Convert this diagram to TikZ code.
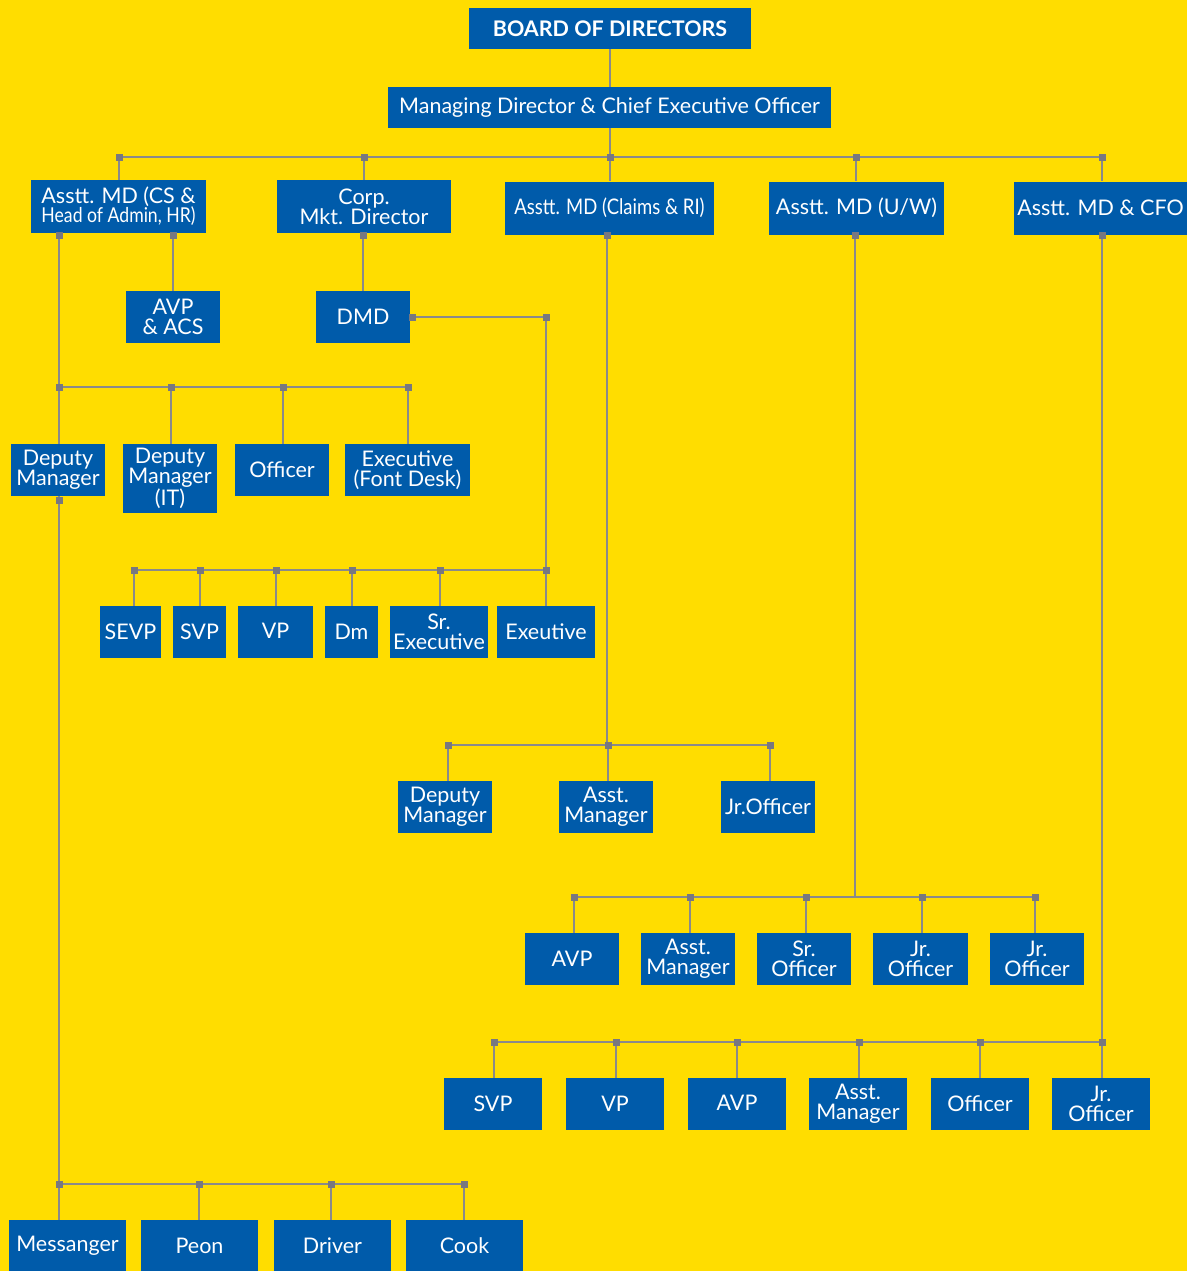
\documentclass[tikz,border=0pt]{standalone}
\usepackage{fontspec}
\usepackage{graphicx}
\setmainfont{Lato}
\definecolor{bgyellow}{RGB}{255,221,0}
\definecolor{boxblue}{RGB}{0,91,170}
\definecolor{lgray}{RGB}{138,138,138}
\definecolor{jgray}{RGB}{120,120,128}
\newcommand{\jn}[2]{\fill[jgray] (#1-3.5,#2-3.5) rectangle (#1+3.5,#2+3.5);}
\newcommand{\cond}[1]{\scalebox{0.86}[1]{#1}}
\tikzset{
  box/.style={fill=boxblue, text=white, inner sep=0pt, align=center,
    font=\fontsize{21.5}{20}\selectfont},
  conn/.style={draw=lgray, line width=1.6pt}
}
\begin{document}
\begin{tikzpicture}[x=1pt,y=-1pt]
\useasboundingbox (0,0) rectangle (1187,1271);
\fill[bgyellow] (0,0) rectangle (1187,1271);

% nodes
\node[box, minimum width=282, minimum height=41, font=\fontsize{21.5}{20}\selectfont\bfseries] (bod) at (610,28.5) {\raisebox{-1pt}{BOARD OF DIRECTORS}};
\node[box, minimum width=443, minimum height=41] (md) at (609.5,107.5) {\raisebox{-3pt}{Managing Director \& Chief Executive Officer}};

\node[box, minimum width=175, minimum height=53] (a1) at (118.5,206.5) {Asstt. MD (CS \&\\[-1pt]{\fontsize{20.5}{20}\selectfont\cond{Head of Admin, HR)}}};
\node[box, minimum width=174, minimum height=53] (a2) at (364,206.5) {Corp.\\Mkt. Director};
\node[box, minimum width=209, minimum height=53] (a3) at (609.5,208) {\raisebox{-2pt}{\cond{Asstt. MD (Claims \& RI)}}};
\node[box, minimum width=175, minimum height=53] (a4) at (856.5,208) {\raisebox{-2pt}{Asstt. MD (U/W)}};
\node[box, minimum width=173, minimum height=53] (a5) at (1100.5,208) {\raisebox{-2pt}{Asstt. MD \& CFO}};

\node[box, minimum width=94, minimum height=52] (avp) at (173,317) {AVP\\\& ACS};
\node[box, minimum width=94, minimum height=52] (dmd) at (363,317) {DMD};

\node[box, minimum width=94, minimum height=52] (dm1) at (58,470) {Deputy\\Manager};
\node[box, minimum width=94, minimum height=69] (dm2) at (170,478.5) {Deputy\\Manager\\(IT)};
\node[box, minimum width=94, minimum height=52] (off) at (282,470) {\raisebox{-2pt}{Officer}};
\node[box, minimum width=125, minimum height=52] (exf) at (407.5,470) {Executive\\(Font Desk)};

\node[box, minimum width=61, minimum height=52] (sevp) at (130.5,632) {SEVP};
\node[box, minimum width=53, minimum height=52] (svp) at (199.5,632) {SVP};
\node[box, minimum width=75, minimum height=52] (vp) at (275.5,632) {\raisebox{3pt}{VP}};
\node[box, minimum width=53, minimum height=52] (dmm) at (351.5,632) {Dm};
\node[box, minimum width=98, minimum height=52] (srex) at (439,632) {Sr.\\Executive};
\node[box, minimum width=98, minimum height=52] (exe) at (546,632) {Exeutive};

\node[box, minimum width=94, minimum height=52] (c1) at (445,807) {Deputy\\Manager};
\node[box, minimum width=94, minimum height=52] (c2) at (606,807) {Asst.\\Manager};
\node[box, minimum width=94, minimum height=52] (c3) at (768,807) {Jr.Officer};

\node[box, minimum width=94, minimum height=52] (u1) at (572,959) {\raisebox{-2pt}{AVP}};
\node[box, minimum width=94, minimum height=52] (u2) at (688,959) {Asst.\\Manager};
\node[box, minimum width=94, minimum height=52] (u3) at (804,959) {Sr.\\Officer};
\node[box, minimum width=95, minimum height=52] (u4) at (920.5,959) {Jr.\\Officer};
\node[box, minimum width=94, minimum height=52] (u5) at (1037,959) {Jr.\\Officer};

\node[box, minimum width=98, minimum height=52] (f1) at (493,1104) {\raisebox{-2pt}{SVP}};
\node[box, minimum width=98, minimum height=52] (f2) at (615,1104) {\raisebox{-2pt}{VP}};
\node[box, minimum width=98, minimum height=52] (f3) at (737,1104) {\raisebox{3pt}{AVP}};
\node[box, minimum width=98, minimum height=52] (f4) at (858,1104) {Asst.\\Manager};
\node[box, minimum width=98, minimum height=52] (f5) at (980,1104) {\raisebox{-2pt}{Officer}};
\node[box, minimum width=98, minimum height=52] (f6) at (1101,1104) {Jr.\\Officer};

\node[box, minimum width=117, minimum height=52] (b1) at (67.5,1246) {\raisebox{-2pt}{Messanger}};
\node[box, minimum width=117, minimum height=52] (b2) at (199.5,1246) {\raisebox{-2pt}{Peon}};
\node[box, minimum width=117, minimum height=52] (b3) at (332.5,1246) {\raisebox{-2pt}{Driver}};
\node[box, minimum width=117, minimum height=52] (b4) at (464.5,1246) {\raisebox{-2pt}{Cook}};

% bus coordinates
\coordinate (t0) at (610,157);
\coordinate (tl) at (119,157);
\coordinate (tr) at (1102,157);
\coordinate (h1) at (59,387);
\coordinate (h1r) at (408,387);
\coordinate (d1) at (546,317);
\coordinate (d2) at (546,570);
\coordinate (d2l) at (134,570);
\coordinate (c0) at (607,745);
\coordinate (c0l) at (448,745);
\coordinate (c0r) at (770,745);
\coordinate (u0) at (855,897);
\coordinate (u0l) at (574,897);
\coordinate (u0r) at (1035,897);
\coordinate (f0) at (1102,1042);
\coordinate (f0l) at (494,1042);
\coordinate (g0) at (59,1184);
\coordinate (g0r) at (464,1184);

% connectors
\begin{scope}[conn]
\draw (bod.south -| t0) -- (md.north -| t0);
\draw (md.south -| t0) -- (t0);
\draw (tl) -- (tr);
\draw (tl) -- (tl |- a1.north);
\draw (364,157) -- (a2.north);
\draw (t0) -- (t0 |- a3.north);
\draw (856,157) -- (a4.north -| 856,0);
\draw (tr) -- (tr |- a5.north);
% Admin branch
\draw (a1.south -| 59,0) -- (59,0 |- dm1.north);
\draw (h1) -- (h1r);
\draw (171,387) -- (dm2.north -| 171,0);
\draw (283,387) -- (off.north -| 283,0);
\draw (h1r) -- (exf.north -| h1r);
\draw (a1.south -| 173,0) -- (avp.north);
\draw (dm1.south -| 59,0) -- (g0);
\draw (g0) -- (g0r);
\draw (g0) -- (g0 |- b1.north);
\draw (199,1184) -- (b2.north -| 199,0);
\draw (331,1184) -- (b3.north -| 331,0);
\draw (g0r) -- (b4.north -| g0r);
% Marketing branch
\draw (a2.south -| 363,0) -- (dmd.north);
\draw (dmd.east) -- (d1) -- (d2) -- (d2l);
\draw (d2l) -- (sevp.north -| d2l);
\draw (200,570) -- (svp.north -| 200,0);
\draw (276,570) -- (vp.north -| 276,0);
\draw (352,570) -- (dmm.north -| 352,0);
\draw (440,570) -- (srex.north -| 440,0);
\draw (d2) -- (exe.north -| d2);
% Claims branch
\draw (a3.south -| c0) -- (c0);
\draw (c0l) -- (c0r);
\draw (c0l) -- (c1.north -| c0l);
\draw (608,745) -- (c2.north -| 608,0);
\draw (c0r) -- (c3.north -| c0r);
% U/W branch
\draw (a4.south -| u0) -- (u0);
\draw (u0l) -- (u0r);
\draw (u0l) -- (u1.north -| u0l);
\draw (690,897) -- (u2.north -| 690,0);
\draw (806,897) -- (u3.north -| 806,0);
\draw (922,897) -- (u4.north -| 922,0);
\draw (u0r) -- (u5.north -| u0r);
% CFO branch
\draw (a5.south -| f0) -- (f0);
\draw (f0l) -- (f0);
\draw (f0l) -- (f1.north -| f0l);
\draw (616,1042) -- (f2.north -| 616,0);
\draw (737,1042) -- (f3.north -| 737,0);
\draw (859,1042) -- (f4.north -| 859,0);
\draw (980,1042) -- (f5.north -| 980,0);
\draw (f0) -- (f6.north -| f0);
\end{scope}

% junction squares
\jn{119}{157}\jn{364}{157}\jn{610}{157}\jn{856}{157}\jn{1102}{157}
\jn{59}{235}\jn{173}{235}\jn{363}{235}\jn{607}{235}\jn{855}{235}\jn{1102}{235}
\jn{412}{317}\jn{546}{317}
\jn{59}{387}\jn{171}{387}\jn{283}{387}\jn{408}{387}
\jn{59}{500}
\jn{134}{570}\jn{200}{570}\jn{276}{570}\jn{352}{570}\jn{440}{570}\jn{546}{570}
\jn{448}{745}\jn{608}{745}\jn{770}{745}
\jn{574}{897}\jn{690}{897}\jn{806}{897}\jn{922}{897}\jn{1035}{897}
\jn{494}{1042}\jn{616}{1042}\jn{737}{1042}\jn{859}{1042}\jn{980}{1042}\jn{1102}{1042}
\jn{59}{1184}\jn{199}{1184}\jn{331}{1184}\jn{464}{1184}
\end{tikzpicture}
\end{document}
